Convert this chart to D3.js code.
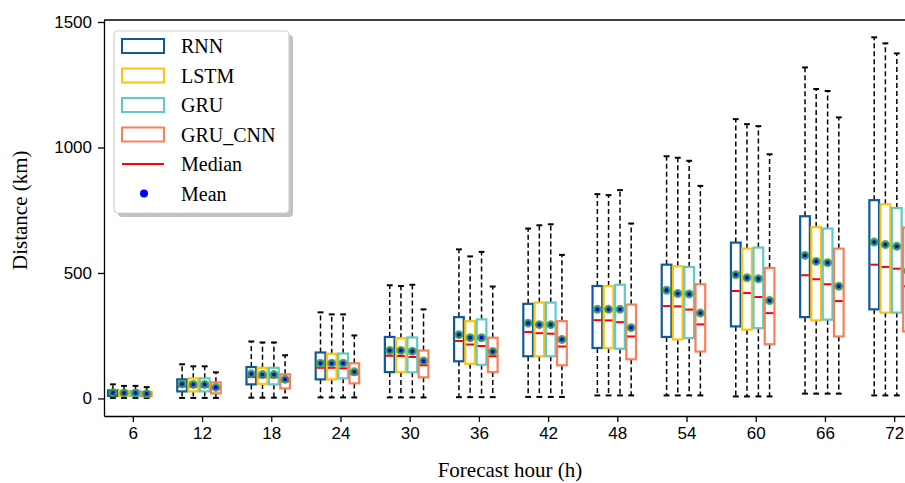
<!DOCTYPE html>
<html>
<head>
<meta charset="utf-8">
<script src="https://cdn.jsdelivr.net/npm/d3@7"></script>
<style>
  body { margin: 0; background: #fff; }
  svg { display: block; }
</style>
</head>
<body>
<div id="chart"></div>
<script>
// Forecast hours (x categories)
const hours = [6, 12, 18, 24, 30, 36, 42, 48, 54, 60, 66, 72];
const models = ["RNN", "LSTM", "GRU", "GRU_CNN"];
const yTicks = [0, 500, 1000, 1500];

// each row: [whiskerLow, q1, median, q3, whiskerHigh, mean] in km
const rnnStats = [
  [2, 10, 20, 32, 56, 23],
  [2, 28, 48, 76, 136, 58],
  [3, 56, 85, 125, 227, 98],
  [4, 76, 122, 183, 343, 140],
  [4, 105, 170, 245, 451, 191],
  [5, 148, 229, 324, 594, 254],
  [6, 168, 265, 377, 677, 300],
  [12, 201, 312, 448, 814, 355],
  [12, 245, 368, 533, 965, 431],
  [8, 287, 428, 621, 1113, 493],
  [19, 324, 491, 726, 1319, 570],
  [12, 355, 533, 790, 1439, 623],
];
const lstmStats = [
  [2, 10, 19, 30, 50, 22],
  [2, 28, 47, 80, 128, 56],
  [3, 58, 84, 122, 223, 95],
  [4, 76, 122, 178, 335, 140],
  [4, 105, 169, 240, 448, 191],
  [5, 138, 215, 308, 566, 242],
  [6, 168, 260, 382, 690, 294],
  [12, 201, 311, 448, 810, 355],
  [12, 235, 367, 527, 959, 418],
  [8, 274, 420, 597, 1093, 481],
  [19, 311, 475, 683, 1233, 546],
  [12, 342, 524, 774, 1415, 613],
];
const gruStats = [
  [2, 10, 19, 30, 50, 22],
  [2, 28, 46, 80, 128, 56],
  [3, 56, 84, 122, 223, 95],
  [4, 80, 120, 179, 335, 140],
  [4, 104, 165, 243, 453, 188],
  [5, 134, 209, 315, 584, 242],
  [6, 168, 258, 382, 694, 294],
  [12, 198, 304, 453, 830, 355],
  [12, 240, 354, 524, 947, 416],
  [8, 280, 404, 601, 1085, 477],
  [19, 314, 455, 677, 1225, 541],
  [12, 342, 517, 759, 1375, 606],
];
const gruCnnStats = [
  [2, 8, 16, 26, 45, 19],
  [2, 20, 40, 64, 104, 44],
  [3, 40, 68, 96, 172, 76],
  [4, 60, 96, 140, 251, 106],
  [4, 84, 132, 191, 355, 149],
  [5, 105, 168, 242, 446, 187],
  [6, 132, 207, 308, 572, 235],
  [12, 156, 247, 374, 697, 282],
  [12, 187, 295, 455, 847, 340],
  [8, 216, 340, 520, 973, 390],
  [19, 247, 388, 597, 1120, 447],
  [12, 267, 447, 681, 1290, 508],
];

const modelStats = [rnnStats, lstmStats, gruStats, gruCnnStats];
const colors = ["#0f5a9a", "#ffc20e", "#62c9c9", "#f7805a"];
const offsets = [-1.73, -0.76, 0.23, 1.2]; // in hours, from the tick
const boxW = 0.84; // in hours

const W = 905, H = 483;
const plot = { left: 104, right: 923, top: 20, bottom: 416 };

function createScales() {
  const x = d3.scaleLinear().domain([3.5, 74.5]).range([plot.left, plot.right]);
  const y = d3.scaleLinear().domain([-70, 1508]).range([plot.bottom, plot.top]);
  return { x, y };
}

function buildRows() {
  const rows = [];
  modelStats.forEach((stats, m) => {
    stats.forEach((s, i) => {
      rows.push({
        model: models[m], m, hour: hours[i],
        lo: s[0], q1: s[1], med: s[2], q3: s[3], hi: s[4], mean: s[5],
      });
    });
  });
  return rows;
}

function drawBoxes(svg, rows, x, y) {
  const bw = x(boxW) - x(0);
  const g = svg.append("g").selectAll("g").data(rows).enter().append("g");
  const cx = (d) => x(d.hour + offsets[d.m]);

  // whiskers
  g.append("line")
    .attr("x1", cx).attr("x2", cx)
    .attr("y1", (d) => y(d.q3)).attr("y2", (d) => y(d.hi))
    .attr("stroke", "#000").attr("stroke-width", 1.5).attr("stroke-dasharray", "5,3");
  g.append("line")
    .attr("x1", cx).attr("x2", cx)
    .attr("y1", (d) => y(d.q1)).attr("y2", (d) => y(d.lo))
    .attr("stroke", "#000").attr("stroke-width", 1.5).attr("stroke-dasharray", "5,3");

  // caps
  ["lo", "hi"].forEach((k) => {
    g.append("line")
      .attr("x1", (d) => cx(d) - bw / 4 - 0.5).attr("x2", (d) => cx(d) + bw / 4 + 0.5)
      .attr("y1", (d) => y(d[k])).attr("y2", (d) => y(d[k]))
      .attr("stroke", "#000").attr("stroke-width", 2);
  });

  // box
  g.append("rect")
    .attr("x", (d) => cx(d) - bw / 2)
    .attr("y", (d) => y(d.q3))
    .attr("width", bw)
    .attr("height", (d) => y(d.q1) - y(d.q3))
    .attr("fill", "#fff")
    .attr("stroke", (d) => colors[d.m])
    .attr("stroke-width", 2.2);

  // median
  g.append("line")
    .attr("x1", (d) => cx(d) - bw / 2 + 1).attr("x2", (d) => cx(d) + bw / 2 - 1)
    .attr("y1", (d) => y(d.med)).attr("y2", (d) => y(d.med))
    .attr("stroke", "#ff0000").attr("stroke-width", 2);

  // mean
  g.append("circle")
    .attr("cx", cx).attr("cy", (d) => y(d.mean)).attr("r", 3.2)
    .attr("fill", "#0000ff")
    .attr("stroke", "#3aa33a").attr("stroke-opacity", 0.85).attr("stroke-width", 2.6);
}

function addAxes(svg, x, y) {
  const xAxis = d3.axisBottom(x).tickValues(hours).tickSize(6).tickPadding(5).tickSizeOuter(0);
  const yAxis = d3.axisLeft(y).tickValues(yTicks).tickFormat(d3.format("d"))
    .tickSize(6).tickPadding(6).tickSizeOuter(0);

  const gx = svg.append("g").attr("transform", `translate(0,${plot.bottom})`).call(xAxis);
  const gy = svg.append("g").attr("transform", `translate(${plot.left},0)`).call(yAxis);

  [gx, gy].forEach((g) => {
    g.selectAll("path").attr("stroke", "#000").attr("stroke-width", 1.3);
    g.selectAll("line").attr("stroke", "#000").attr("stroke-width", 1.3);
    g.selectAll("text")
      .attr("fill", "#000")
      .style("font-family", "'Liberation Sans', Arial, sans-serif")
      .style("font-size", "17px");
  });

  // top and right spines
  svg.append("line")
    .attr("x1", plot.left).attr("x2", plot.right)
    .attr("y1", plot.top).attr("y2", plot.top)
    .attr("stroke", "#000").attr("stroke-width", 1.3);
  svg.append("line")
    .attr("x1", plot.right).attr("x2", plot.right)
    .attr("y1", plot.top).attr("y2", plot.bottom)
    .attr("stroke", "#000").attr("stroke-width", 1.3);

  const serif = "'Liberation Serif', 'Times New Roman', serif";
  svg.append("text")
    .attr("x", 510).attr("y", 477)
    .attr("text-anchor", "middle")
    .style("font-family", serif).style("font-size", "21px")
    .text("Forecast hour (h)");
  svg.append("text")
    .attr("transform", `translate(27,${y(750)}) rotate(-90)`)
    .attr("text-anchor", "middle")
    .style("font-family", serif).style("font-size", "21px")
    .text("Distance (km)");
}

function addLegend(svg) {
  const lg = svg.append("g").attr("transform", "translate(114,31)");
  const w = 175, h = 182;
  lg.append("rect").attr("x", 4).attr("y", 4).attr("width", w).attr("height", h)
    .attr("rx", 4).attr("fill", "#999").attr("opacity", 0.6);
  lg.append("rect").attr("width", w).attr("height", h).attr("rx", 4)
    .attr("fill", "#fff").attr("stroke", "#d0d0d0").attr("stroke-width", 1.2);

  const items = models.map((name, m) => ({ name, type: "box", color: colors[m] }));
  items.push({ name: "Median", type: "line" });
  items.push({ name: "Mean", type: "dot" });

  const row = lg.selectAll("g.item").data(items).enter().append("g")
    .attr("transform", (d, i) => `translate(0,${15 + i * 29.5})`);

  row.filter((d) => d.type === "box").append("rect")
    .attr("x", 8).attr("y", -7).attr("width", 42).attr("height", 14)
    .attr("fill", "#fff").attr("stroke", (d) => d.color).attr("stroke-width", 2);
  row.filter((d) => d.type === "line").append("line")
    .attr("x1", 8).attr("x2", 50).attr("y1", 0).attr("y2", 0)
    .attr("stroke", "#ff0000").attr("stroke-width", 2);
  row.filter((d) => d.type === "dot").append("circle")
    .attr("cx", 30).attr("cy", 0).attr("r", 4).attr("fill", "#0000ff");

  row.append("text")
    .attr("x", 67).attr("y", 0).attr("dy", "0.35em")
    .style("font-family", "'Liberation Serif', 'Times New Roman', serif")
    .style("font-size", "20px")
    .text((d) => d.name);
}

function boxChart() {
  const svg = d3.select("#chart").append("svg").attr("width", W).attr("height", H);
  const { x, y } = createScales();
  const rows = buildRows();
  drawBoxes(svg, rows, x, y);
  addAxes(svg, x, y);
  addLegend(svg);
}

boxChart();
</script>
</body>
</html>
